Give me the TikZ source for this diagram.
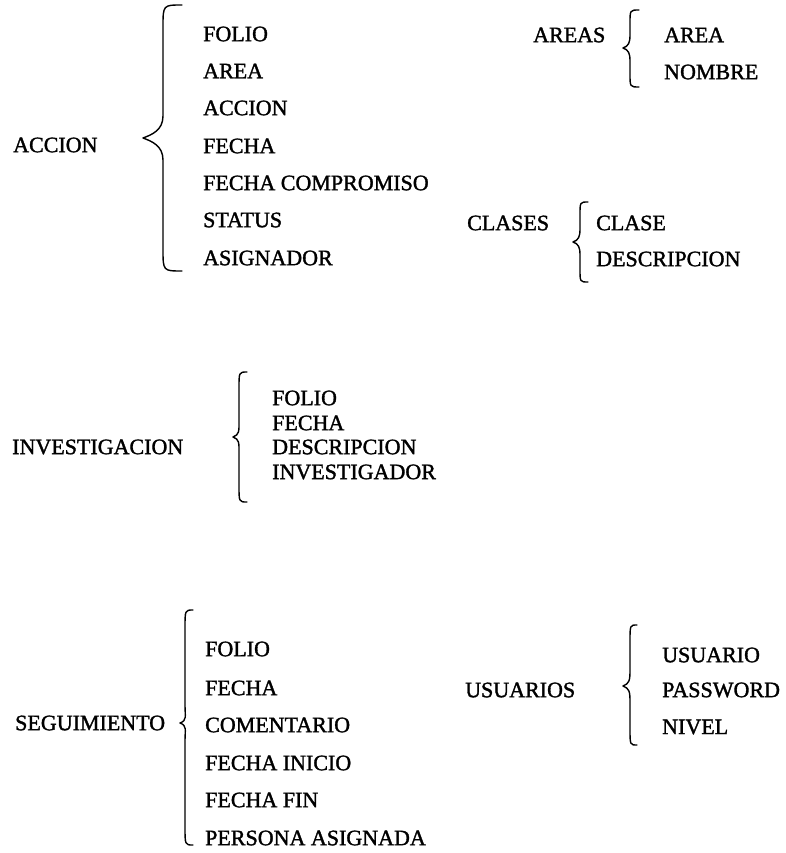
\documentclass[tikz,border=0pt]{standalone}
\usepackage{fontspec}
\setmainfont{Liberation Serif}[FakeBold=1.5]
\tikzset{
  lbl/.style={anchor=west, inner sep=0pt, font=\fontsize{22}{22}\selectfont},
  bracestyle/.style={line width=1.4pt, line cap=round, line join=round}
}
% brace: xr, xv, xt, ytop, ymid, ybot, radius
\newcommand\mybrace[7]{%
  \draw[bracestyle] (#1,#4) .. controls (#2,#4) .. (#2,#4+#7) -- (#2,#5-#7)
    .. controls (#2,#5-0.35*#7) and (#3+0.4*#7,#5-0.15*#7) .. (#3,#5)
    .. controls (#3+0.4*#7,#5+0.15*#7) and (#2,#5+0.35*#7) .. (#2,#5+#7)
    -- (#2,#6-#7) .. controls (#2,#6) .. (#1,#6);}
\begin{document}
\begin{tikzpicture}[x=1pt,y=-1pt]
\useasboundingbox (0,0) rectangle (785,853);
% ACCION
\node[lbl] (accion) at (13,145) {ACCION};
\mybrace{182}{163}{143}{5}{138}{271}{22}
\node[lbl] (a1) at (203,34) {FOLIO};
\node[lbl] (a2) at (203,71) {AREA};
\node[lbl] (a3) at (203,108) {ACCION};
\node[lbl] (a4) at (203,146) {FECHA};
\node[lbl] (a5) at (203,183) {FECHA COMPROMISO};
\node[lbl] (a6) at (203,220) {STATUS};
\node[lbl] (a7) at (203,258) {ASIGNADOR};
% AREAS
\node[lbl] (areas) at (533,35) {AREAS};
\mybrace{639}{630}{623}{10}{48}{87}{13}
\node[lbl] (ar1) at (664,35) {AREA};
\node[lbl] (ar2) at (664,72) {NOMBRE};
% CLASES
\node[lbl] (clases) at (467,223) {CLASES};
\mybrace{588}{580}{573}{202}{242}{282}{13}
\node[lbl] (c1) at (596,223) {CLASE};
\node[lbl] (c2) at (596,259) {DESCRIPCION};
% INVESTIGACION
\node[lbl] (inv) at (12,447) {INVESTIGACION};
\mybrace{247}{239}{233}{372}{437}{502}{16}
\node[lbl] (i1) at (272,398) {FOLIO};
\node[lbl] (i2) at (272,423) {FECHA};
\node[lbl] (i3) at (272,447) {DESCRIPCION};
\node[lbl] (i4) at (272,472) {INVESTIGADOR};
% SEGUIMIENTO
\node[lbl] (seg) at (15,723) {SEGUIMIENTO};
\mybrace{193}{185}{180}{610}{723}{845}{18}
\node[lbl] (s1) at (205,649) {FOLIO};
\node[lbl] (s2) at (205,688) {FECHA};
\node[lbl] (s3) at (205,725) {COMENTARIO};
\node[lbl] (s4) at (205,763) {FECHA INICIO};
\node[lbl] (s5) at (205,800) {FECHA FIN};
\node[lbl] (s6) at (205,838) {PERSONA ASIGNADA};
% USUARIOS
\node[lbl] (usu) at (465,690) {USUARIOS};
\mybrace{637}{630}{623}{625}{686}{745}{16}
\node[lbl] (u1) at (662,655) {USUARIO};
\node[lbl] (u2) at (662,690) {PASSWORD};
\node[lbl] (u3) at (662,727) {NIVEL};
\end{tikzpicture}
\end{document}
